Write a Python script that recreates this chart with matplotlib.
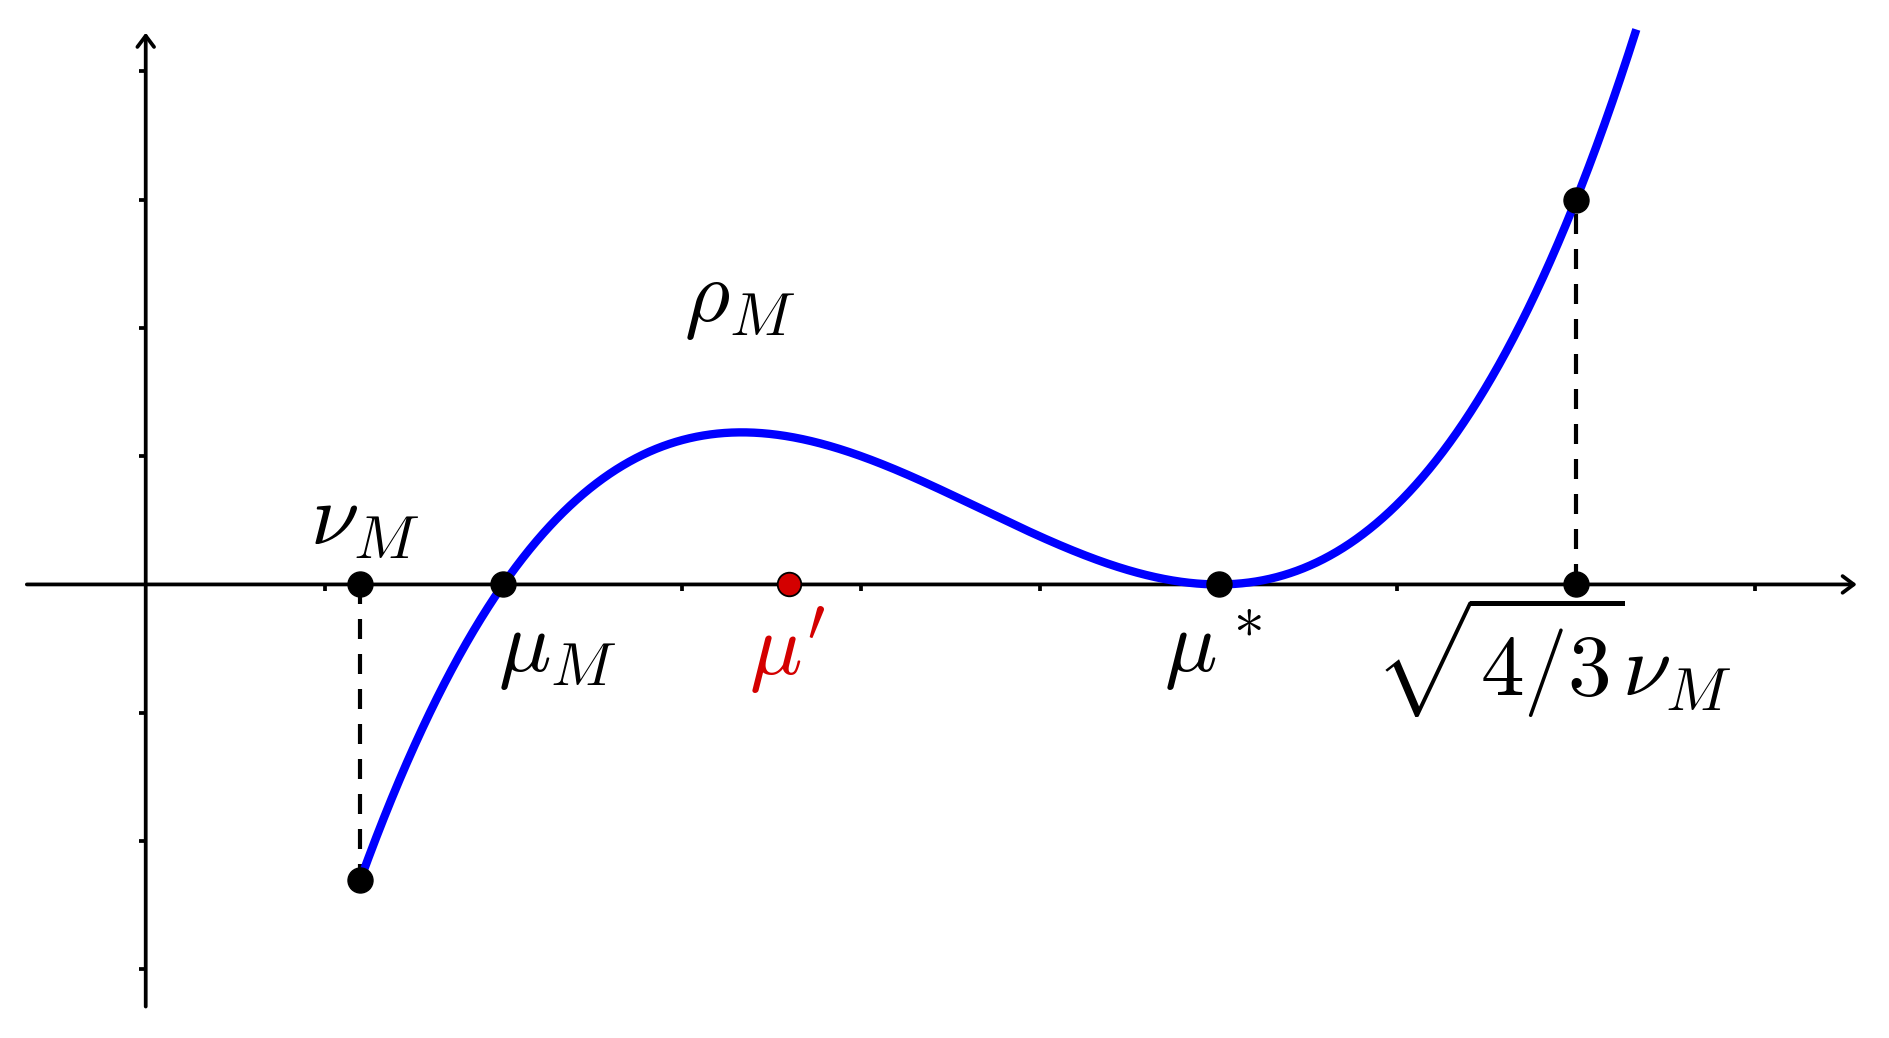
import numpy as np
import matplotlib
matplotlib.use("Agg")
import matplotlib.pyplot as plt
from matplotlib.patches import FancyArrowPatch

plt.rcParams['mathtext.fontset'] = 'cm'

# ---- data ----
nu_M = 1.2          # left end of the curve
mu_M = 2.0          # simple root
mu_star = 6.0       # double root
mu_prime = 3.6      # red point
x_right = 8.0       # sqrt(4/3) nu_M
scale = 0.125       # cubic leading coefficient
y_clip = 4.33       # curve stops at this height

x_ticks = [1, 2, 3, 4, 5, 6, 7, 8, 9]
y_ticks = [-3, -2, -1, 1, 2, 3, 4]

labels = {
    'nu': r'$\nu_M$',
    'muM': r'$\mu_M$',
    'mup': r"$\mu'$",
    'mus': r'$\mu^*$',
    'sq': r'$\sqrt{4/3}\nu_M$',
    'rho': r'$\rho_M$',
}

def f(x):
    return scale * (x - mu_M) * (x - mu_star) ** 2

# ---- figure ----
fig = plt.figure(figsize=(18.89, 10.38), dpi=100)
ax = fig.add_axes([0, 0, 1, 1])
ax.set_xlim(-0.815, 9.75)
ax.set_ylim(-3.535, 4.555)
ax.axis('off')

axis_lw = 2.7
# axes with arrows
for (x0, y0, x1, y1) in [(-0.665, 0, 9.57, 0), (0, -3.29, 0, 4.30)]:
    ax.add_patch(FancyArrowPatch((x0, y0), (x1, y1),
                                 arrowstyle='->,head_length=0.4,head_width=0.3',
                                 mutation_scale=20, lw=axis_lw, color='black',
                                 shrinkA=0, shrinkB=0, zorder=2))

# ticks
tx = 7 / 178.8
ty = 7 / 128.3
for t in x_ticks:
    ax.plot([t, t], [0, -ty], color='black', lw=axis_lw, solid_capstyle='butt', zorder=2)
for t in y_ticks:
    ax.plot([0, -tx], [t, t], color='black', lw=axis_lw, solid_capstyle='butt', zorder=2)

# curve: x range from nu_M to where curve reaches y_clip
xs = np.linspace(nu_M, 9, 4000)
ys = f(xs)
mask = ys <= y_clip
ax.plot(xs[mask], ys[mask], color='#0000ff', lw=6, zorder=3, solid_capstyle='butt')

# dashed verticals
dash = (0, (4.8, 3.6))
ax.plot([nu_M, nu_M], [0, f(nu_M)], color='black', lw=3.0, linestyle=dash, zorder=2)
ax.plot([x_right, x_right], [0, f(x_right)], color='black', lw=3.0, linestyle=dash, zorder=2)

# points
ms = 18
pts_x = [nu_M, mu_M, mu_star, x_right, nu_M, x_right]
pts_y = [0, 0, 0, 0, f(nu_M), f(x_right)]
ax.plot(pts_x, pts_y, 'o', color='black', ms=ms, zorder=5)
ax.plot([mu_prime], [0], 'o', color='#d40000', mec='black', mew=1.3, ms=ms - 1, zorder=5)

fs = 63
ax.text(1.226, 0.50, labels['nu'], fontsize=fs, ha='center', va='center')
ax.text(2.30, -0.51, labels['muM'], fontsize=fs, ha='center', va='center')
ax.text(3.59, -0.51, labels['mup'], fontsize=fs, ha='center', va='center', color='#d40000')
ax.text(5.97, -0.51, labels['mus'], fontsize=fs, ha='center', va='center')
ax.text(7.87, -0.57, labels['sq'], fontsize=fs, ha='center', va='center')
ax.text(3.32, 2.22, labels['rho'], fontsize=fs, ha='center', va='center')

fig.savefig('out.png', dpi=100)
